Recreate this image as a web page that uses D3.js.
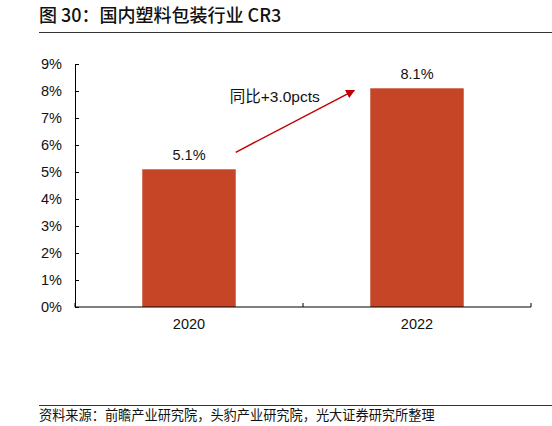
<!DOCTYPE html>
<html>
<head>
<meta charset="utf-8">
<script src="https://cdn.jsdelivr.net/npm/d3@7"></script>
<style>
  body { margin: 0; background: #fff; }
  svg { display: block; }
</style>
</head>
<body>
<div id="chart"></div>
<script>
const years = ["2020", "2022"];
const cr3 = [5.1, 8.1];
const yTicks = [0, 1, 2, 3, 4, 5, 6, 7, 8, 9];
const titleText = "图 30：国内塑料包装行业 CR3";
const noteText = "同比+3.0pcts";
const sourceText = "资料来源：前瞻产业研究院，头豹产业研究院，光大证券研究所整理";

const W = 552, H = 426;
const margin = { top: 64, right: 21, bottom: 119, left: 75 };
const width = W - margin.left - margin.right;
const height = H - margin.top - margin.bottom;
const cjk = "'Noto Sans CJK SC', 'Noto Sans', sans-serif";
const latin = "'Liberation Sans', Arial, 'Noto Sans CJK SC', sans-serif";

const svg = d3.select("#chart").append("svg")
  .attr("width", W)
  .attr("height", H);

// header
svg.append("text")
  .attr("x", 39).attr("y", 22)
  .attr("font-family", cjk)
  .attr("font-size", 18)
  .attr("font-weight", 500)
  .attr("fill", "#111")
  .text(titleText);
svg.append("line")
  .attr("x1", 39).attr("x2", W)
  .attr("y1", 32.5).attr("y2", 32.5)
  .attr("stroke", "#333").attr("stroke-width", 1);

const g = svg.append("g")
  .attr("transform", `translate(${margin.left},${margin.top})`);

const x = d3.scaleBand().domain(years).range([0, width])
  .paddingInner(0.59).paddingOuter(0.295);
const y = d3.scaleLinear().domain([0, 9]).range([height, 0]);

// bars
g.selectAll("rect.bar")
  .data(years)
  .join("rect")
  .attr("class", "bar")
  .attr("x", (d) => x(d))
  .attr("width", x.bandwidth())
  .attr("y", (d, i) => y(cr3[i]))
  .attr("height", (d, i) => y(0) - y(cr3[i]))
  .attr("fill", "#c54526");

// value labels
g.selectAll("text.val")
  .data(years)
  .join("text")
  .attr("class", "val")
  .attr("x", (d) => x(d) + x.bandwidth() / 2)
  .attr("y", (d, i) => y(cr3[i]) - 9)
  .attr("text-anchor", "middle")
  .attr("font-family", latin)
  .attr("font-size", 14.5)
  .attr("fill", "#111")
  .text((d, i) => cr3[i].toFixed(1) + "%");

// y axis, ticks pointing inward
const yAxis = g.append("g")
  .call(d3.axisLeft(y).tickValues(yTicks).tickSize(-4).tickSizeOuter(0)
    .tickFormat((d) => d + "%"));
yAxis.select(".domain").attr("stroke", "#000");
yAxis.selectAll(".tick line").attr("stroke", "#000");
yAxis.selectAll(".tick text")
  .attr("x", -13)
  .attr("font-family", latin)
  .attr("font-size", 14.5)
  .attr("fill", "#111");

// x axis with ticks between categories
const xAxis = g.append("g").attr("transform", `translate(0,${height})`);
xAxis.append("line")
  .attr("x1", 0).attr("x2", width)
  .attr("stroke", "#000");
const step = x.step();
const bounds = d3.range(years.length + 1).map((i) => i * step);
xAxis.selectAll("line.sep")
  .data(bounds)
  .join("line")
  .attr("class", "sep")
  .attr("x1", (d) => d).attr("x2", (d) => d)
  .attr("y1", 0).attr("y2", -4)
  .attr("stroke", "#000");
xAxis.selectAll("text")
  .data(years)
  .join("text")
  .attr("x", (d) => x(d) + x.bandwidth() / 2)
  .attr("y", 22)
  .attr("text-anchor", "middle")
  .attr("font-family", latin)
  .attr("font-size", 14.5)
  .attr("fill", "#111")
  .text((d) => d);

// growth arrow
svg.append("defs").append("marker")
  .attr("id", "head")
  .attr("viewBox", "0 0 10 10")
  .attr("refX", 9).attr("refY", 5)
  .attr("markerWidth", 6).attr("markerHeight", 6)
  .attr("orient", "auto")
  .append("path")
  .attr("d", "M0,0L10,5L0,10z")
  .attr("fill", "#c00000");

const x0 = x(years[0]) + x.bandwidth();
const x1 = x(years[1]) - 16;
g.append("line")
  .attr("x1", x0).attr("y1", y(cr3[0]) - 17)
  .attr("x2", x1).attr("y2", y(cr3[1]) + 2)
  .attr("stroke", "#c00000")
  .attr("stroke-width", 1.5)
  .attr("marker-end", "url(#head)");

g.append("text")
  .attr("x", x0 - 6)
  .attr("y", y(cr3[1]) + 14)
  .attr("font-family", latin)
  .attr("font-size", 15.5)
  .attr("fill", "#111")
  .text(noteText);

// footer
svg.append("line")
  .attr("x1", 39).attr("x2", W)
  .attr("y1", 405.5).attr("y2", 405.5)
  .attr("stroke", "#333").attr("stroke-width", 1);
svg.append("text")
  .attr("x", 39).attr("y", 420)
  .attr("font-family", cjk)
  .attr("font-size", 13.2)
  .attr("fill", "#111")
  .text(sourceText);
</script>
</body>
</html>
